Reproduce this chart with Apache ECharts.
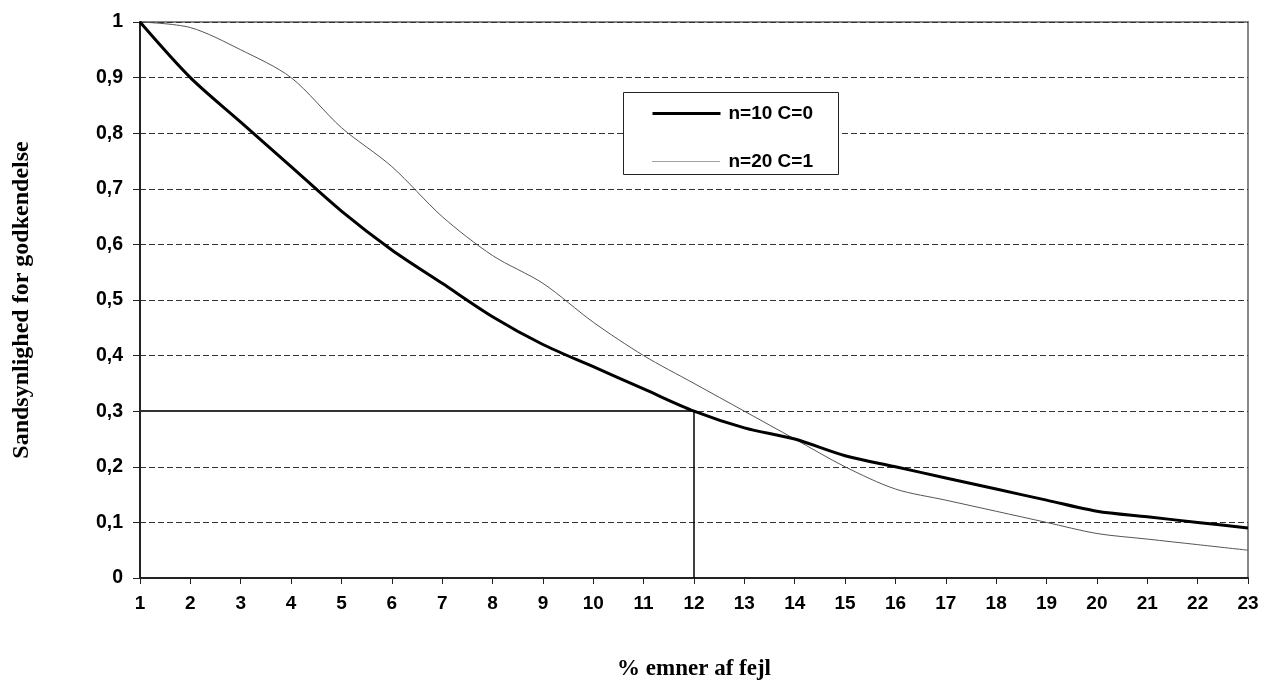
<!DOCTYPE html>
<html>
<head>
<meta charset="utf-8">
<script src="https://cdn.jsdelivr.net/npm/echarts@6/dist/echarts.min.js"></script>
<style>html,body{margin:0;padding:0;background:#fff;}#c{width:1262px;height:680px;}</style>
</head>
<body>
<div id="c"></div>
<script>
var categories = ['1','2','3','4','5','6','7','8','9','10','11','12','13','14','15','16','17','18','19','20','21','22','23'];
var seriesA = [1.00,0.90,0.82,0.74,0.66,0.59,0.53,0.47,0.42,0.38,0.34,0.30,0.27,0.25,0.22,0.20,0.18,0.16,0.14,0.12,0.11,0.10,0.09];
var seriesB = [1.00,0.99,0.95,0.90,0.81,0.74,0.65,0.58,0.53,0.46,0.40,0.35,0.30,0.25,0.20,0.16,0.14,0.12,0.10,0.08,0.07,0.06,0.05];
var nameA = 'n=10 C=0';
var nameB = 'n=20 C=1';
var refX = '12';
var refY = 0.3;

var chart = echarts.init(document.getElementById('c'));
chart.setOption({
  animation: false,
  backgroundColor: '#fff',
  grid: {left: 140, right: 14, top: 22, bottom: 102, containLabel: false, outerBoundsMode: 'none',
    show: true, borderColor: '#888', borderWidth: 2},
  graphic: [{
    type: 'rect', left: 623, top: 92, z: 10,
    shape: {width: 215, height: 82},
    style: {fill: '#fff', stroke: '#222', lineWidth: 1}
  }],
  legend: {
    orient: 'vertical', left: 651, top: 104, z: 20, padding: 0,
    itemWidth: 68, itemHeight: 14, itemGap: 29,
    textStyle: {fontFamily: 'Liberation Sans', fontWeight: 'bold', fontSize: 19, color: '#000', padding: [0,0,0,3]},
    data: [
      {name: nameA, lineStyle: {color: '#000', width: 3}, itemStyle: {opacity: 0}},
      {name: nameB, lineStyle: {color: '#444', width: 1, type: 'dotted'}, itemStyle: {opacity: 0}}
    ]
  },
  xAxis: {
    type: 'category', data: categories, boundaryGap: false,
    name: '% emner af fejl', nameLocation: 'middle', nameGap: 80,
    nameTextStyle: {fontFamily: 'Liberation Serif', fontWeight: 'bold', fontSize: 23, color: '#000'},
    axisLine: {lineStyle: {color: '#222', width: 2}},
    axisTick: {show: true, length: 6, lineStyle: {color: '#222'}},
    axisLabel: {fontFamily: 'Liberation Sans', fontWeight: 'bold', fontSize: 19, color: '#000', margin: 16, interval: 0},
    splitLine: {show: false}
  },
  yAxis: {
    type: 'value', min: 0, max: 1, interval: 0.1,
    name: 'Sandsynlighed for godkendelse', nameLocation: 'middle', nameGap: 106, nameRotate: 90,
    nameTextStyle: {fontFamily: 'Liberation Serif', fontWeight: 'bold', fontSize: 24, color: '#000'},
    axisLine: {show: true, lineStyle: {color: '#222', width: 2}},
    axisTick: {show: true, length: 7, lineStyle: {color: '#222'}},
    axisLabel: {fontFamily: 'Liberation Sans', fontWeight: 'bold', fontSize: 19.5, color: '#000', margin: 17,
      formatter: function (v) { return String(Math.round(v * 10) / 10).replace('.', ','); }},
    splitLine: {show: true, lineStyle: {color: '#333', type: [6, 3], width: 1}}
  },
  series: [
    {
      name: nameA, type: 'line', data: seriesA, smooth: 0.3, symbol: 'none', z: 5,
      lineStyle: {color: '#000', width: 3}, itemStyle: {color: '#000'},
      markLine: {
        silent: true, symbol: 'none', label: {show: false},
        data: [
          [{coord: [categories[0], refY], lineStyle: {color: '#333', width: 2, type: 'solid'}}, {coord: [refX, refY]}],
          [{coord: [refX, 0], lineStyle: {color: '#000', width: 1.5, type: 'solid'}}, {coord: [refX, refY]}]
        ]
      }
    },
    {
      name: nameB, type: 'line', data: seriesB, smooth: 0.3, symbol: 'none', z: 4,
      lineStyle: {color: '#555', width: 1, type: 'solid'}, itemStyle: {color: '#777'}
    }
  ]
});
</script>
</body>
</html>
